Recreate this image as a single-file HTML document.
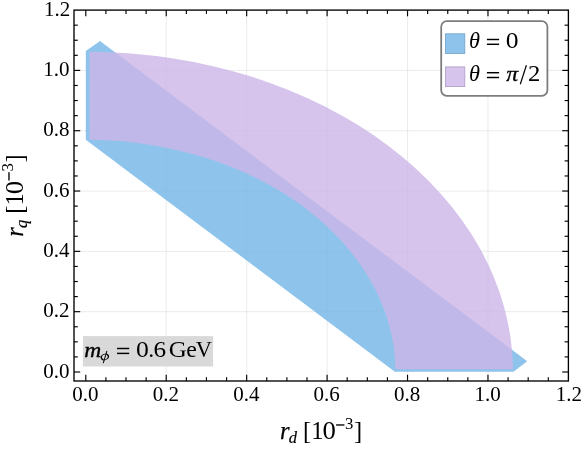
<!DOCTYPE html>
<html><head><meta charset="utf-8"><title>plot</title>
<style>html,body{margin:0;padding:0;background:#fff;}svg{display:block;will-change:transform;}text{font-family:"Liberation Serif",serif;fill:#000;}</style>
</head><body>
<svg width="581" height="450" viewBox="0 0 581 450">
<rect x="0" y="0" width="581" height="450" fill="#ffffff"/>
<g stroke="#e2e2e2" stroke-width="0.7" fill="none">
<line x1="166.23" y1="10.10" x2="166.23" y2="381.00"/>
<line x1="74.00" y1="311.68" x2="568.40" y2="311.68"/>
<line x1="246.67" y1="10.10" x2="246.67" y2="381.00"/>
<line x1="74.00" y1="251.36" x2="568.40" y2="251.36"/>
<line x1="327.10" y1="10.10" x2="327.10" y2="381.00"/>
<line x1="74.00" y1="191.04" x2="568.40" y2="191.04"/>
<line x1="407.54" y1="10.10" x2="407.54" y2="381.00"/>
<line x1="74.00" y1="130.72" x2="568.40" y2="130.72"/>
<line x1="487.97" y1="10.10" x2="487.97" y2="381.00"/>
<line x1="74.00" y1="70.40" x2="568.40" y2="70.40"/>
</g>
<polygon points="85.80,139.77 85.80,51.10 100.00,40.99 527.18,361.20 513.51,371.79 394.87,371.79" fill="rgb(114,181,231)" fill-opacity="0.8"/>
<path d="M89.62,51.65 A427.18,320.36 0 0 1 512.97,369.13 L395.45,369.13 A309.67,232.23 0 0 0 89.62,139.79 Z" fill="rgb(204,181,231)" fill-opacity="0.8"/>
<g stroke="#000000" stroke-width="1.15" fill="none">
<line x1="85.80" y1="381.00" x2="85.80" y2="374.80"/>
<line x1="85.80" y1="10.10" x2="85.80" y2="16.30"/>
<line x1="74.00" y1="372.00" x2="80.20" y2="372.00"/>
<line x1="568.40" y1="372.00" x2="562.20" y2="372.00"/>
<line x1="105.91" y1="381.00" x2="105.91" y2="377.20"/>
<line x1="105.91" y1="10.10" x2="105.91" y2="13.90"/>
<line x1="74.00" y1="356.92" x2="77.80" y2="356.92"/>
<line x1="568.40" y1="356.92" x2="564.60" y2="356.92"/>
<line x1="126.02" y1="381.00" x2="126.02" y2="377.20"/>
<line x1="126.02" y1="10.10" x2="126.02" y2="13.90"/>
<line x1="74.00" y1="341.84" x2="77.80" y2="341.84"/>
<line x1="568.40" y1="341.84" x2="564.60" y2="341.84"/>
<line x1="146.13" y1="381.00" x2="146.13" y2="377.20"/>
<line x1="146.13" y1="10.10" x2="146.13" y2="13.90"/>
<line x1="74.00" y1="326.76" x2="77.80" y2="326.76"/>
<line x1="568.40" y1="326.76" x2="564.60" y2="326.76"/>
<line x1="166.23" y1="381.00" x2="166.23" y2="374.80"/>
<line x1="166.23" y1="10.10" x2="166.23" y2="16.30"/>
<line x1="74.00" y1="311.68" x2="80.20" y2="311.68"/>
<line x1="568.40" y1="311.68" x2="562.20" y2="311.68"/>
<line x1="186.34" y1="381.00" x2="186.34" y2="377.20"/>
<line x1="186.34" y1="10.10" x2="186.34" y2="13.90"/>
<line x1="74.00" y1="296.60" x2="77.80" y2="296.60"/>
<line x1="568.40" y1="296.60" x2="564.60" y2="296.60"/>
<line x1="206.45" y1="381.00" x2="206.45" y2="377.20"/>
<line x1="206.45" y1="10.10" x2="206.45" y2="13.90"/>
<line x1="74.00" y1="281.52" x2="77.80" y2="281.52"/>
<line x1="568.40" y1="281.52" x2="564.60" y2="281.52"/>
<line x1="226.56" y1="381.00" x2="226.56" y2="377.20"/>
<line x1="226.56" y1="10.10" x2="226.56" y2="13.90"/>
<line x1="74.00" y1="266.44" x2="77.80" y2="266.44"/>
<line x1="568.40" y1="266.44" x2="564.60" y2="266.44"/>
<line x1="246.67" y1="381.00" x2="246.67" y2="374.80"/>
<line x1="246.67" y1="10.10" x2="246.67" y2="16.30"/>
<line x1="74.00" y1="251.36" x2="80.20" y2="251.36"/>
<line x1="568.40" y1="251.36" x2="562.20" y2="251.36"/>
<line x1="266.78" y1="381.00" x2="266.78" y2="377.20"/>
<line x1="266.78" y1="10.10" x2="266.78" y2="13.90"/>
<line x1="74.00" y1="236.28" x2="77.80" y2="236.28"/>
<line x1="568.40" y1="236.28" x2="564.60" y2="236.28"/>
<line x1="286.88" y1="381.00" x2="286.88" y2="377.20"/>
<line x1="286.88" y1="10.10" x2="286.88" y2="13.90"/>
<line x1="74.00" y1="221.20" x2="77.80" y2="221.20"/>
<line x1="568.40" y1="221.20" x2="564.60" y2="221.20"/>
<line x1="306.99" y1="381.00" x2="306.99" y2="377.20"/>
<line x1="306.99" y1="10.10" x2="306.99" y2="13.90"/>
<line x1="74.00" y1="206.12" x2="77.80" y2="206.12"/>
<line x1="568.40" y1="206.12" x2="564.60" y2="206.12"/>
<line x1="327.10" y1="381.00" x2="327.10" y2="374.80"/>
<line x1="327.10" y1="10.10" x2="327.10" y2="16.30"/>
<line x1="74.00" y1="191.04" x2="80.20" y2="191.04"/>
<line x1="568.40" y1="191.04" x2="562.20" y2="191.04"/>
<line x1="347.21" y1="381.00" x2="347.21" y2="377.20"/>
<line x1="347.21" y1="10.10" x2="347.21" y2="13.90"/>
<line x1="74.00" y1="175.96" x2="77.80" y2="175.96"/>
<line x1="568.40" y1="175.96" x2="564.60" y2="175.96"/>
<line x1="367.32" y1="381.00" x2="367.32" y2="377.20"/>
<line x1="367.32" y1="10.10" x2="367.32" y2="13.90"/>
<line x1="74.00" y1="160.88" x2="77.80" y2="160.88"/>
<line x1="568.40" y1="160.88" x2="564.60" y2="160.88"/>
<line x1="387.43" y1="381.00" x2="387.43" y2="377.20"/>
<line x1="387.43" y1="10.10" x2="387.43" y2="13.90"/>
<line x1="74.00" y1="145.80" x2="77.80" y2="145.80"/>
<line x1="568.40" y1="145.80" x2="564.60" y2="145.80"/>
<line x1="407.54" y1="381.00" x2="407.54" y2="374.80"/>
<line x1="407.54" y1="10.10" x2="407.54" y2="16.30"/>
<line x1="74.00" y1="130.72" x2="80.20" y2="130.72"/>
<line x1="568.40" y1="130.72" x2="562.20" y2="130.72"/>
<line x1="427.64" y1="381.00" x2="427.64" y2="377.20"/>
<line x1="427.64" y1="10.10" x2="427.64" y2="13.90"/>
<line x1="74.00" y1="115.64" x2="77.80" y2="115.64"/>
<line x1="568.40" y1="115.64" x2="564.60" y2="115.64"/>
<line x1="447.75" y1="381.00" x2="447.75" y2="377.20"/>
<line x1="447.75" y1="10.10" x2="447.75" y2="13.90"/>
<line x1="74.00" y1="100.56" x2="77.80" y2="100.56"/>
<line x1="568.40" y1="100.56" x2="564.60" y2="100.56"/>
<line x1="467.86" y1="381.00" x2="467.86" y2="377.20"/>
<line x1="467.86" y1="10.10" x2="467.86" y2="13.90"/>
<line x1="74.00" y1="85.48" x2="77.80" y2="85.48"/>
<line x1="568.40" y1="85.48" x2="564.60" y2="85.48"/>
<line x1="487.97" y1="381.00" x2="487.97" y2="374.80"/>
<line x1="487.97" y1="10.10" x2="487.97" y2="16.30"/>
<line x1="74.00" y1="70.40" x2="80.20" y2="70.40"/>
<line x1="568.40" y1="70.40" x2="562.20" y2="70.40"/>
<line x1="508.08" y1="381.00" x2="508.08" y2="377.20"/>
<line x1="508.08" y1="10.10" x2="508.08" y2="13.90"/>
<line x1="74.00" y1="55.32" x2="77.80" y2="55.32"/>
<line x1="568.40" y1="55.32" x2="564.60" y2="55.32"/>
<line x1="528.19" y1="381.00" x2="528.19" y2="377.20"/>
<line x1="528.19" y1="10.10" x2="528.19" y2="13.90"/>
<line x1="74.00" y1="40.24" x2="77.80" y2="40.24"/>
<line x1="568.40" y1="40.24" x2="564.60" y2="40.24"/>
<line x1="548.30" y1="381.00" x2="548.30" y2="377.20"/>
<line x1="548.30" y1="10.10" x2="548.30" y2="13.90"/>
<line x1="74.00" y1="25.16" x2="77.80" y2="25.16"/>
<line x1="568.40" y1="25.16" x2="564.60" y2="25.16"/>
</g>
<rect x="74.00" y="10.10" width="494.40" height="370.90" fill="none" stroke="#000000" stroke-width="1.35"/>
<g font-size="21px">
<text x="85.40" y="400.9" text-anchor="middle">0.0</text>
<text x="69.50" y="377.60" text-anchor="end">0.0</text>
<text x="165.83" y="400.9" text-anchor="middle">0.2</text>
<text x="69.50" y="317.28" text-anchor="end">0.2</text>
<text x="246.27" y="400.9" text-anchor="middle">0.4</text>
<text x="69.50" y="256.96" text-anchor="end">0.4</text>
<text x="326.70" y="400.9" text-anchor="middle">0.6</text>
<text x="69.50" y="196.64" text-anchor="end">0.6</text>
<text x="407.14" y="400.9" text-anchor="middle">0.8</text>
<text x="69.50" y="136.32" text-anchor="end">0.8</text>
<text x="487.57" y="400.9" text-anchor="middle">1.0</text>
<text x="69.50" y="76.00" text-anchor="end">1.0</text>
<text x="568.90" y="400.9" text-anchor="middle">1.2</text>
<text x="70.20" y="15.68" text-anchor="end">1.2</text>
</g>
<g id="xlabel">
<text x="279.91" y="439.10" font-size="24.5px" font-style="italic" stroke="#000" stroke-width="0.25" stroke-linejoin="round">r</text>
<text x="288.70" y="442.70" font-size="16.5px" font-style="italic" stroke="#000" stroke-width="0.2" stroke-linejoin="round">d</text>
<text x="302.98" y="439.20" font-size="24.5px">[1</text>
<text transform="translate(322.38,439.20) scale(1.09,1)" font-size="24.5px">0</text>
<rect x="336.1" y="424.3" width="8.3" height="1.35" fill="#000"/>
<text x="345.00" y="429.20" font-size="16.7px">3</text>
<text x="354.01" y="439.20" font-size="24.5px">]</text>
</g>
<g id="ylabel" transform="translate(23.2,195.7) rotate(-90) translate(-320.9,-439.2)">
<text x="279.91" y="439.10" font-size="24.5px" font-style="italic" stroke="#000" stroke-width="0.25" stroke-linejoin="round">r</text>
<text x="288.65" y="442.70" font-size="16.5px" font-style="italic" stroke="#000" stroke-width="0.2" stroke-linejoin="round">q</text>
<text x="302.98" y="439.20" font-size="24.5px">[1</text>
<text transform="translate(322.38,439.20) scale(1.09,1)" font-size="24.5px">0</text>
<rect x="336.1" y="424.3" width="8.3" height="1.35" fill="#000"/>
<text x="345.00" y="429.20" font-size="16.7px">3</text>
<text x="354.01" y="439.20" font-size="24.5px">]</text>
</g>
<rect x="82.9" y="336.1" width="130.2" height="30.4" fill="#d9d9d9"/>
<text transform="translate(84.30,356.60) scale(1.09,1)" font-size="21.6px" font-style="italic" stroke="#000" stroke-width="0.35" stroke-linejoin="round">m</text>
<g transform="translate(104.85,356.9) rotate(-22)">
<path fill="#000" fill-rule="evenodd" d="M-4.35,0 A4.35,3.15 0 1 0 4.35,0 A4.35,3.15 0 1 0 -4.35,0 Z M-2.85,0 A2.85,2.45 0 1 0 2.85,0 A2.85,2.45 0 1 0 -2.85,0 Z"/>
</g>
<line x1="106.8" y1="351.3" x2="103.4" y2="362.8" stroke="#000" stroke-width="1.0" stroke-linecap="round"/>
<rect x="117.00" y="347.77" width="12.2" height="1.45" fill="#000"/>
<rect x="117.00" y="352.67" width="12.2" height="1.45" fill="#000"/>
<text transform="translate(136.12,356.70) scale(1.08,1)" font-size="23.8px">0</text>
<text x="148.23" y="356.70" font-size="23.8px">.</text>
<text transform="translate(153.42,356.70) scale(1.06,1)" font-size="23.8px">6</text>
<text transform="translate(168.78,356.70) scale(1.05,1)" font-size="23.8px">G</text>
<text x="186.17" y="356.70" font-size="23.8px">e</text>
<text transform="translate(195.65,356.70) scale(0.94,1)" font-size="23.8px">V</text>
<rect x="441.2" y="21.2" width="106.2" height="74.6" rx="5.5" ry="5.5" fill="#ffffff" stroke="#7d7d7d" stroke-width="1.8"/>
<rect x="445.4" y="33.8" width="19.4" height="19.7" fill="rgb(142,196,236)" stroke="rgb(112,160,202)" stroke-width="0.8"/>
<rect x="445.4" y="66.9" width="19.4" height="19.7" fill="rgb(214,196,236)" stroke="rgb(172,156,198)" stroke-width="0.8"/>
<text x="468.91" y="47.90" font-size="22.3px" font-style="italic">θ</text>
<rect x="486.90" y="38.77" width="12.2" height="1.45" fill="#000"/>
<rect x="486.90" y="43.57" width="12.2" height="1.45" fill="#000"/>
<text transform="translate(505.83,47.90) scale(1.08,1)" font-size="23.7px">0</text>
<text x="468.91" y="81.10" font-size="22.3px" font-style="italic">θ</text>
<rect x="486.90" y="71.98" width="12.2" height="1.45" fill="#000"/>
<rect x="486.90" y="76.78" width="12.2" height="1.45" fill="#000"/>
<text transform="translate(506.37,81.00) scale(1.14,1)" font-size="20.9px" font-style="italic" stroke="#000" stroke-width="0.3" stroke-linejoin="round">π</text>
<line x1="520.3" y1="84.3" x2="526.4" y2="65.3" stroke="#000" stroke-width="1.2"/>
<text transform="translate(527.92,81.00) scale(1.04,1)" font-size="23.7px">2</text>
</svg>
</body></html>
